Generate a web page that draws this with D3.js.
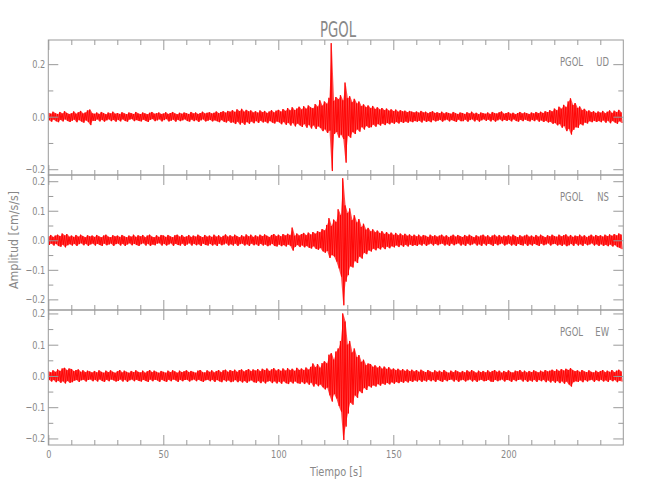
<!DOCTYPE html>
<html><head><meta charset="utf-8">
<script src="https://cdn.jsdelivr.net/npm/d3@7"></script>
<style>
body{margin:0;background:#fff}
svg{display:block}
text{font-family:'Liberation Sans Narrow','DejaVu Sans Condensed','Liberation Sans',sans-serif;fill:#888888}
.tick text{font-size:11px}
</style>
</head><body><svg id="c" width="650" height="500"></svg>
<script>
// ---------------- data ----------------
const title = "PGOL";
const station = "PGOL";
const components = ["UD", "NS", "EW"];
const xLabel = "Tiempo [s]";
const yLabel = "Amplitud [cm/s/s]";
const xDomain = [0, 250];
const xMajorTicks = [0, 50, 100, 150, 200];
const xMinorTicks = [10,20,30,40,60,70,80,90,110,120,130,140,160,170,180,190,210,220,230,240];
const yDomainUD = [-0.222, 0.292];
const yDomainNS = [-0.236, 0.221];
const yDomainEW = [-0.221, 0.211];
const yMajorUD = [-0.2, 0.0, 0.2];
const yMinorUD = [-0.1, 0.1];
const yMajorNS = [-0.2, -0.1, 0.0, 0.1, 0.2];
const yMinorNS = [-0.15, -0.05, 0.05, 0.15];
const yMajorEW = [-0.2, -0.1, 0.0, 0.1, 0.2];
const yMinorEW = [-0.15, -0.05, 0.05, 0.15];

// per-second positive / negative peak amplitudes (cm/s/s), t = 0..249 s
const udUpper = [
0.015,0.011,0.019,0.013,0.010,0.018,0.012,0.021,0.014,0.010,
0.013,0.020,0.011,0.017,0.022,0.012,0.016,0.024,0.027,0.013,
0.011,0.016,0.010,0.018,0.013,0.009,0.016,0.012,0.019,0.011,
0.014,0.010,0.017,0.012,0.009,0.016,0.013,0.010,0.018,0.012,
0.010,0.016,0.012,0.009,0.015,0.018,0.011,0.013,0.016,0.010,
0.012,0.017,0.010,0.014,0.018,0.012,0.009,0.015,0.011,0.016,
0.013,0.010,0.018,0.012,0.016,0.010,0.014,0.019,0.012,0.015,
0.017,0.012,0.015,0.020,0.013,0.018,0.021,0.015,0.022,0.019,
0.025,0.018,0.028,0.021,0.030,0.019,0.026,0.020,0.024,0.016,
0.021,0.015,0.024,0.017,0.022,0.014,0.020,0.025,0.016,0.023,
0.026,0.019,0.029,0.022,0.033,0.024,0.036,0.025,0.031,0.038,
0.027,0.040,0.030,0.043,0.035,0.032,0.048,0.038,0.063,0.042,
0.058,0.049,0.072,0.280,0.060,0.075,0.066,0.082,0.062,0.130,
0.070,0.078,0.055,0.068,0.050,0.058,0.040,0.047,0.036,0.043,
0.032,0.041,0.029,0.036,0.027,0.033,0.025,0.031,0.023,0.028,
0.021,0.027,0.019,0.025,0.020,0.023,0.017,0.022,0.019,0.016,
0.020,0.015,0.022,0.016,0.019,0.013,0.018,0.021,0.014,0.017,
0.013,0.019,0.012,0.017,0.014,0.011,0.018,0.013,0.010,0.016,
0.014,0.010,0.017,0.012,0.019,0.011,0.015,0.009,0.016,0.013,
0.011,0.016,0.010,0.018,0.013,0.012,0.017,0.020,0.011,0.014,
0.017,0.011,0.015,0.009,0.014,0.018,0.012,0.016,0.013,0.010,
0.016,0.012,0.018,0.013,0.019,0.014,0.021,0.017,0.025,0.020,
0.031,0.024,0.038,0.030,0.045,0.036,0.058,0.070,0.044,0.052,
0.033,0.039,0.025,0.030,0.020,0.024,0.017,0.021,0.014,0.020,
0.015,0.022,0.013,0.019,0.024,0.014,0.023,0.017,0.026,0.016];
const udLower = [
-0.013,-0.019,-0.011,-0.017,-0.021,-0.012,-0.018,-0.010,-0.016,-0.020,
-0.015,-0.011,-0.021,-0.013,-0.018,-0.023,-0.014,-0.020,-0.032,-0.015,
-0.016,-0.010,-0.018,-0.012,-0.019,-0.014,-0.010,-0.017,-0.012,-0.019,
-0.012,-0.018,-0.010,-0.016,-0.019,-0.011,-0.009,-0.017,-0.013,-0.016,
-0.018,-0.011,-0.016,-0.020,-0.012,-0.009,-0.017,-0.014,-0.010,-0.018,
-0.013,-0.009,-0.018,-0.015,-0.011,-0.019,-0.012,-0.017,-0.014,-0.010,
-0.016,-0.019,-0.011,-0.017,-0.013,-0.020,-0.014,-0.010,-0.018,-0.015,
-0.012,-0.018,-0.014,-0.017,-0.021,-0.013,-0.019,-0.022,-0.015,-0.023,
-0.021,-0.028,-0.019,-0.030,-0.022,-0.031,-0.020,-0.027,-0.018,-0.025,
-0.016,-0.024,-0.015,-0.022,-0.018,-0.025,-0.016,-0.022,-0.026,-0.018,
-0.021,-0.029,-0.020,-0.031,-0.023,-0.034,-0.024,-0.037,-0.026,-0.033,
-0.039,-0.028,-0.042,-0.031,-0.045,-0.033,-0.047,-0.036,-0.043,-0.055,
-0.048,-0.062,-0.053,-0.207,-0.066,-0.058,-0.080,-0.068,-0.085,-0.175,
-0.072,-0.080,-0.058,-0.066,-0.048,-0.057,-0.039,-0.049,-0.035,-0.042,
-0.040,-0.030,-0.038,-0.028,-0.034,-0.026,-0.032,-0.024,-0.029,-0.022,
-0.027,-0.020,-0.026,-0.019,-0.024,-0.018,-0.023,-0.017,-0.021,-0.016,
-0.019,-0.015,-0.022,-0.014,-0.020,-0.016,-0.021,-0.013,-0.018,-0.015,
-0.012,-0.019,-0.014,-0.011,-0.018,-0.013,-0.016,-0.020,-0.011,-0.017,
-0.017,-0.011,-0.019,-0.013,-0.010,-0.018,-0.012,-0.019,-0.014,-0.010,
-0.016,-0.011,-0.018,-0.012,-0.019,-0.014,-0.010,-0.017,-0.012,-0.016,
-0.012,-0.018,-0.010,-0.016,-0.019,-0.012,-0.017,-0.011,-0.015,-0.018,
-0.012,-0.017,-0.011,-0.019,-0.014,-0.020,-0.015,-0.022,-0.019,-0.027,
-0.024,-0.033,-0.028,-0.042,-0.035,-0.055,-0.046,-0.068,-0.050,-0.040,
-0.042,-0.028,-0.033,-0.022,-0.026,-0.017,-0.021,-0.015,-0.020,-0.016,
-0.021,-0.014,-0.023,-0.015,-0.025,-0.016,-0.022,-0.027,-0.017,-0.024];
const nsUpper = [
0.013,0.018,0.011,0.016,0.019,0.014,0.023,0.016,0.021,0.012,
0.016,0.011,0.018,0.012,0.019,0.014,0.010,0.017,0.013,0.016,
0.011,0.018,0.013,0.010,0.016,0.019,0.012,0.010,0.017,0.013,
0.016,0.011,0.018,0.013,0.010,0.016,0.012,0.019,0.011,0.017,
0.013,0.018,0.010,0.016,0.019,0.012,0.010,0.017,0.011,0.018,
0.016,0.011,0.018,0.013,0.010,0.017,0.019,0.012,0.018,0.011,
0.013,0.018,0.011,0.016,0.012,0.019,0.014,0.010,0.018,0.012,
0.016,0.011,0.019,0.012,0.017,0.010,0.015,0.020,0.012,0.017,
0.012,0.019,0.014,0.010,0.017,0.012,0.020,0.013,0.019,0.011,
0.017,0.012,0.019,0.014,0.020,0.015,0.011,0.018,0.021,0.014,
0.019,0.013,0.021,0.016,0.022,0.017,0.043,0.015,0.023,0.016,
0.021,0.025,0.017,0.026,0.019,0.028,0.022,0.031,0.027,0.038,
0.033,0.052,0.075,0.048,0.070,0.062,0.105,0.085,0.210,0.118,
0.092,0.108,0.068,0.085,0.060,0.072,0.045,0.056,0.036,0.042,
0.030,0.037,0.027,0.033,0.024,0.031,0.021,0.028,0.020,0.026,
0.018,0.025,0.017,0.023,0.016,0.022,0.015,0.020,0.014,0.019,
0.013,0.019,0.012,0.018,0.015,0.011,0.019,0.013,0.017,0.012,
0.016,0.019,0.012,0.017,0.010,0.015,0.019,0.012,0.018,0.014,
0.011,0.018,0.013,0.019,0.014,0.010,0.017,0.012,0.016,0.019,
0.012,0.017,0.010,0.016,0.019,0.012,0.018,0.011,0.016,0.013,
0.018,0.012,0.019,0.014,0.010,0.017,0.012,0.016,0.019,0.012,
0.016,0.011,0.018,0.012,0.019,0.014,0.010,0.017,0.013,0.019,
0.014,0.012,0.019,0.013,0.017,0.020,0.012,0.018,0.011,0.016,
0.013,0.019,0.012,0.017,0.010,0.015,0.019,0.012,0.018,0.014,
0.017,0.012,0.019,0.014,0.020,0.015,0.021,0.016,0.023,0.019];
const nsLower = [
-0.016,-0.011,-0.018,-0.012,-0.019,-0.022,-0.015,-0.024,-0.017,-0.013,
-0.018,-0.012,-0.019,-0.013,-0.010,-0.017,-0.012,-0.019,-0.014,-0.011,
-0.018,-0.012,-0.016,-0.019,-0.011,-0.017,-0.014,-0.011,-0.019,-0.013,
-0.011,-0.018,-0.012,-0.019,-0.014,-0.010,-0.017,-0.012,-0.016,-0.019,
-0.013,-0.010,-0.018,-0.012,-0.019,-0.014,-0.017,-0.011,-0.010,-0.018,
-0.012,-0.018,-0.014,-0.010,-0.019,-0.012,-0.016,-0.018,-0.011,-0.019,
-0.014,-0.010,-0.018,-0.012,-0.017,-0.013,-0.019,-0.011,-0.016,-0.018,
-0.012,-0.018,-0.013,-0.019,-0.011,-0.017,-0.014,-0.010,-0.018,-0.013,
-0.018,-0.011,-0.019,-0.013,-0.011,-0.018,-0.013,-0.019,-0.011,-0.017,
-0.013,-0.019,-0.012,-0.018,-0.014,-0.020,-0.017,-0.012,-0.019,-0.021,
-0.014,-0.020,-0.016,-0.021,-0.014,-0.019,-0.035,-0.022,-0.016,-0.023,
-0.017,-0.024,-0.019,-0.025,-0.028,-0.020,-0.029,-0.032,-0.026,-0.037,
-0.042,-0.036,-0.060,-0.050,-0.055,-0.072,-0.095,-0.123,-0.220,-0.140,
-0.118,-0.088,-0.092,-0.070,-0.077,-0.055,-0.062,-0.042,-0.047,-0.034,
-0.038,-0.028,-0.034,-0.026,-0.031,-0.023,-0.030,-0.021,-0.027,-0.020,
-0.024,-0.017,-0.023,-0.016,-0.022,-0.015,-0.021,-0.014,-0.019,-0.016,
-0.019,-0.013,-0.018,-0.012,-0.019,-0.014,-0.011,-0.018,-0.012,-0.017,
-0.013,-0.011,-0.018,-0.013,-0.019,-0.011,-0.017,-0.013,-0.010,-0.018,
-0.013,-0.019,-0.011,-0.017,-0.014,-0.010,-0.018,-0.013,-0.019,-0.011,
-0.018,-0.012,-0.014,-0.019,-0.011,-0.017,-0.013,-0.010,-0.018,-0.014,
-0.011,-0.018,-0.013,-0.019,-0.012,-0.016,-0.018,-0.011,-0.019,-0.013,
-0.018,-0.012,-0.016,-0.019,-0.011,-0.017,-0.014,-0.010,-0.018,-0.013,
-0.012,-0.018,-0.014,-0.019,-0.013,-0.020,-0.017,-0.012,-0.019,-0.011,
-0.018,-0.013,-0.019,-0.011,-0.017,-0.014,-0.010,-0.018,-0.013,-0.019,
-0.013,-0.019,-0.015,-0.020,-0.014,-0.021,-0.016,-0.023,-0.025,-0.030];
const ewUpper = [
0.015,0.011,0.018,0.013,0.021,0.016,0.024,0.026,0.018,0.024,
0.022,0.015,0.019,0.021,0.013,0.018,0.012,0.017,0.014,0.011,
0.016,0.011,0.018,0.013,0.010,0.017,0.012,0.018,0.013,0.010,
0.015,0.019,0.011,0.017,0.013,0.010,0.016,0.012,0.018,0.013,
0.011,0.017,0.010,0.015,0.019,0.012,0.017,0.013,0.010,0.016,
0.013,0.010,0.017,0.012,0.018,0.014,0.010,0.017,0.012,0.015,
0.018,0.012,0.016,0.013,0.010,0.017,0.019,0.012,0.011,0.018,
0.013,0.018,0.011,0.016,0.019,0.012,0.018,0.020,0.013,0.019,
0.015,0.020,0.013,0.019,0.021,0.014,0.019,0.022,0.015,0.021,
0.017,0.022,0.015,0.023,0.018,0.024,0.016,0.021,0.025,0.017,
0.022,0.016,0.024,0.017,0.025,0.018,0.023,0.016,0.026,0.019,
0.024,0.018,0.027,0.020,0.029,0.040,0.028,0.038,0.026,0.041,
0.047,0.040,0.068,0.073,0.052,0.078,0.088,0.112,0.200,0.174,
0.100,0.112,0.075,0.088,0.060,0.067,0.045,0.052,0.034,0.040,
0.038,0.029,0.034,0.026,0.032,0.023,0.030,0.022,0.028,0.020,
0.024,0.018,0.023,0.017,0.022,0.016,0.021,0.015,0.020,0.014,
0.019,0.013,0.020,0.015,0.012,0.019,0.014,0.011,0.018,0.013,
0.017,0.012,0.019,0.013,0.010,0.017,0.012,0.018,0.014,0.011,
0.016,0.011,0.018,0.013,0.019,0.014,0.010,0.017,0.012,0.016,
0.011,0.018,0.012,0.016,0.019,0.013,0.017,0.010,0.016,0.012,
0.018,0.012,0.011,0.017,0.014,0.019,0.012,0.017,0.011,0.016,
0.012,0.018,0.014,0.011,0.017,0.013,0.019,0.014,0.017,0.020,
0.015,0.021,0.016,0.022,0.017,0.023,0.019,0.025,0.018,0.015,
0.018,0.013,0.019,0.014,0.012,0.018,0.013,0.011,0.017,0.012,
0.016,0.019,0.012,0.017,0.013,0.019,0.012,0.017,0.020,0.014];
const ewLower = [
-0.012,-0.018,-0.013,-0.020,-0.015,-0.022,-0.017,-0.024,-0.016,-0.022,
-0.020,-0.015,-0.013,-0.019,-0.014,-0.012,-0.018,-0.013,-0.011,-0.017,
-0.012,-0.018,-0.011,-0.016,-0.019,-0.012,-0.017,-0.011,-0.014,-0.018,
-0.016,-0.011,-0.018,-0.012,-0.019,-0.014,-0.011,-0.017,-0.012,-0.016,
-0.018,-0.012,-0.016,-0.019,-0.011,-0.017,-0.012,-0.014,-0.019,-0.012,
-0.016,-0.019,-0.012,-0.017,-0.011,-0.014,-0.019,-0.012,-0.017,-0.013,
-0.012,-0.018,-0.014,-0.011,-0.017,-0.012,-0.016,-0.019,-0.014,-0.012,
-0.017,-0.012,-0.019,-0.013,-0.017,-0.020,-0.013,-0.018,-0.014,-0.020,
-0.018,-0.013,-0.020,-0.015,-0.021,-0.016,-0.022,-0.017,-0.014,-0.020,
-0.022,-0.016,-0.023,-0.017,-0.024,-0.018,-0.016,-0.023,-0.017,-0.024,
-0.018,-0.025,-0.017,-0.023,-0.026,-0.018,-0.024,-0.017,-0.023,-0.025,
-0.019,-0.026,-0.020,-0.028,-0.021,-0.034,-0.025,-0.033,-0.027,-0.036,
-0.043,-0.037,-0.062,-0.082,-0.058,-0.072,-0.096,-0.114,-0.205,-0.162,
-0.120,-0.085,-0.092,-0.062,-0.070,-0.048,-0.055,-0.038,-0.045,-0.032,
-0.037,-0.030,-0.034,-0.026,-0.031,-0.024,-0.028,-0.022,-0.027,-0.020,
-0.025,-0.019,-0.023,-0.018,-0.022,-0.016,-0.021,-0.015,-0.019,-0.014,
-0.018,-0.013,-0.019,-0.014,-0.018,-0.012,-0.017,-0.013,-0.019,-0.012,
-0.016,-0.019,-0.012,-0.017,-0.013,-0.011,-0.018,-0.012,-0.019,-0.014,
-0.012,-0.018,-0.014,-0.011,-0.018,-0.013,-0.019,-0.014,-0.012,-0.017,
-0.016,-0.012,-0.018,-0.019,-0.012,-0.017,-0.014,-0.011,-0.018,-0.013,
-0.014,-0.019,-0.012,-0.017,-0.013,-0.011,-0.018,-0.012,-0.019,-0.014,
-0.018,-0.012,-0.019,-0.013,-0.017,-0.012,-0.020,-0.014,-0.021,-0.015,
-0.022,-0.016,-0.023,-0.017,-0.025,-0.018,-0.027,-0.034,-0.020,-0.017,
-0.019,-0.014,-0.020,-0.013,-0.018,-0.014,-0.012,-0.019,-0.013,-0.017,
-0.012,-0.018,-0.014,-0.019,-0.012,-0.017,-0.013,-0.020,-0.015,-0.018];

// ---------------- drawing ----------------
const panels = [
  {comp: components[0], up: udUpper, lo: udLower, dom: yDomainUD, major: yMajorUD, minor: yMinorUD},
  {comp: components[1], up: nsUpper, lo: nsLower, dom: yDomainNS, major: yMajorNS, minor: yMinorNS},
  {comp: components[2], up: ewUpper, lo: ewLower, dom: yDomainEW, major: yMajorEW, minor: yMinorEW}
];
const svg = d3.select("#c");
const L = 48.3, R = 623.3, T0 = 40, PH = 135;
const axisColor = "#9a9a9a";
const x = d3.scaleLinear().domain(xDomain).range([L, R]);
const fmt = d3.format(".1f");

svg.append("text").attr("x", 338).attr("y", 37).attr("text-anchor", "middle")
  .attr("font-size", 21).attr("textLength", 36).attr("lengthAdjust", "spacingAndGlyphs").text(title);

// horizontal condensing so text widths match the narrow plot font
const probe = svg.append("text").attr("font-size", 12.5).text(station);
const condense = 23 / probe.node().getComputedTextLength();
probe.remove();
const probe2 = svg.append("text").attr("font-size", 11).text("0.2");
const condenseTick = 13 / probe2.node().getComputedTextLength();
probe2.remove();
const narrowBy = f => sel => sel.each(function () {
  const w = this.getComputedTextLength();
  d3.select(this).attr("textLength", w * f).attr("lengthAdjust", "spacingAndGlyphs");
});

panels.forEach((p, i) => {
  const top = T0 + i * PH, bot = top + PH;
  const y = d3.scaleLinear().domain(p.dom).range([bot, top]);
  const g = svg.append("g");
  const cid = "clip" + i;
  svg.append("clipPath").attr("id", cid).append("rect")
    .attr("x", L).attr("y", top).attr("width", R - L).attr("height", PH);

  // trace
  const env = p.up.map((v, k) => ({t: k + 0.25, hi: v, lo: p.lo[k]}));
  const pts = [];
  p.up.forEach((v, k) => { pts.push([k, v]); pts.push([k + 0.5, p.lo[k]]); });
  const tr = g.append("g").attr("clip-path", `url(#${cid})`);
  tr.append("path").datum(env)
    .attr("d", d3.area().x(d => x(d.t)).y0(d => y(d.lo)).y1(d => y(d.hi)))
    .attr("fill", "#ff0000").attr("fill-opacity", 0.7);
  tr.append("path").datum(pts)
    .attr("d", d3.line().x(d => x(d[0])).y(d => y(d[1])))
    .attr("fill", "none").attr("stroke", "#ff0000").attr("stroke-width", 0.9);

  const clean = a => a.call(s => s.select(".domain").remove()).attr("color", axisColor);
  // y axes
  g.append("g").attr("transform", `translate(${L},0)`)
    .call(d3.axisLeft(y).tickValues(p.major).tickSize(-10).tickPadding(3).tickFormat(fmt)).call(clean);
  g.append("g").attr("transform", `translate(${L},0)`)
    .call(d3.axisLeft(y).tickValues(p.minor).tickSize(-5).tickFormat("")).call(clean);
  g.append("g").attr("transform", `translate(${R},0)`)
    .call(d3.axisRight(y).tickValues(p.major).tickSize(-10).tickFormat("")).call(clean);
  g.append("g").attr("transform", `translate(${R},0)`)
    .call(d3.axisRight(y).tickValues(p.minor).tickSize(-5).tickFormat("")).call(clean);
  // x axes
  g.append("g").attr("transform", `translate(0,${bot})`)
    .call(d3.axisBottom(x).tickValues(xMajorTicks).tickSize(-10).tickPadding(5)
      .tickFormat(i === 2 ? d3.format("d") : "")).call(clean);
  g.append("g").attr("transform", `translate(0,${bot})`)
    .call(d3.axisBottom(x).tickValues(xMinorTicks).tickSize(-5).tickFormat("")).call(clean);
  g.append("g").attr("transform", `translate(0,${top})`)
    .call(d3.axisTop(x).tickValues(xMajorTicks).tickSize(-10).tickFormat("")).call(clean);
  g.append("g").attr("transform", `translate(0,${top})`)
    .call(d3.axisTop(x).tickValues(xMinorTicks).tickSize(-5).tickFormat("")).call(clean);
  // frame
  g.append("rect").attr("x", L).attr("y", top).attr("width", R - L).attr("height", PH)
    .attr("fill", "none").attr("stroke", axisColor).attr("stroke-width", 1);
  // labels
  g.append("text").attr("x", 560).attr("y", top + 26).attr("font-size", 12.5).text(station).call(narrowBy(condense));
  g.append("text").attr("x", 609).attr("y", top + 26).attr("font-size", 12.5)
    .attr("text-anchor", "end").text(p.comp).call(narrowBy(condense));
});

svg.selectAll(".tick text").call(narrowBy(condenseTick));
svg.append("text").attr("x", 336).attr("y", 476).attr("text-anchor", "middle")
  .attr("font-size", 12.5).attr("textLength", 52).attr("lengthAdjust", "spacingAndGlyphs").text(xLabel);
svg.append("text").attr("transform", "translate(17.5,240) rotate(-90)")
  .attr("text-anchor", "middle").attr("font-size", 12.5)
  .attr("textLength", 98).attr("lengthAdjust", "spacingAndGlyphs").text(yLabel);
</script>
</body></html>
